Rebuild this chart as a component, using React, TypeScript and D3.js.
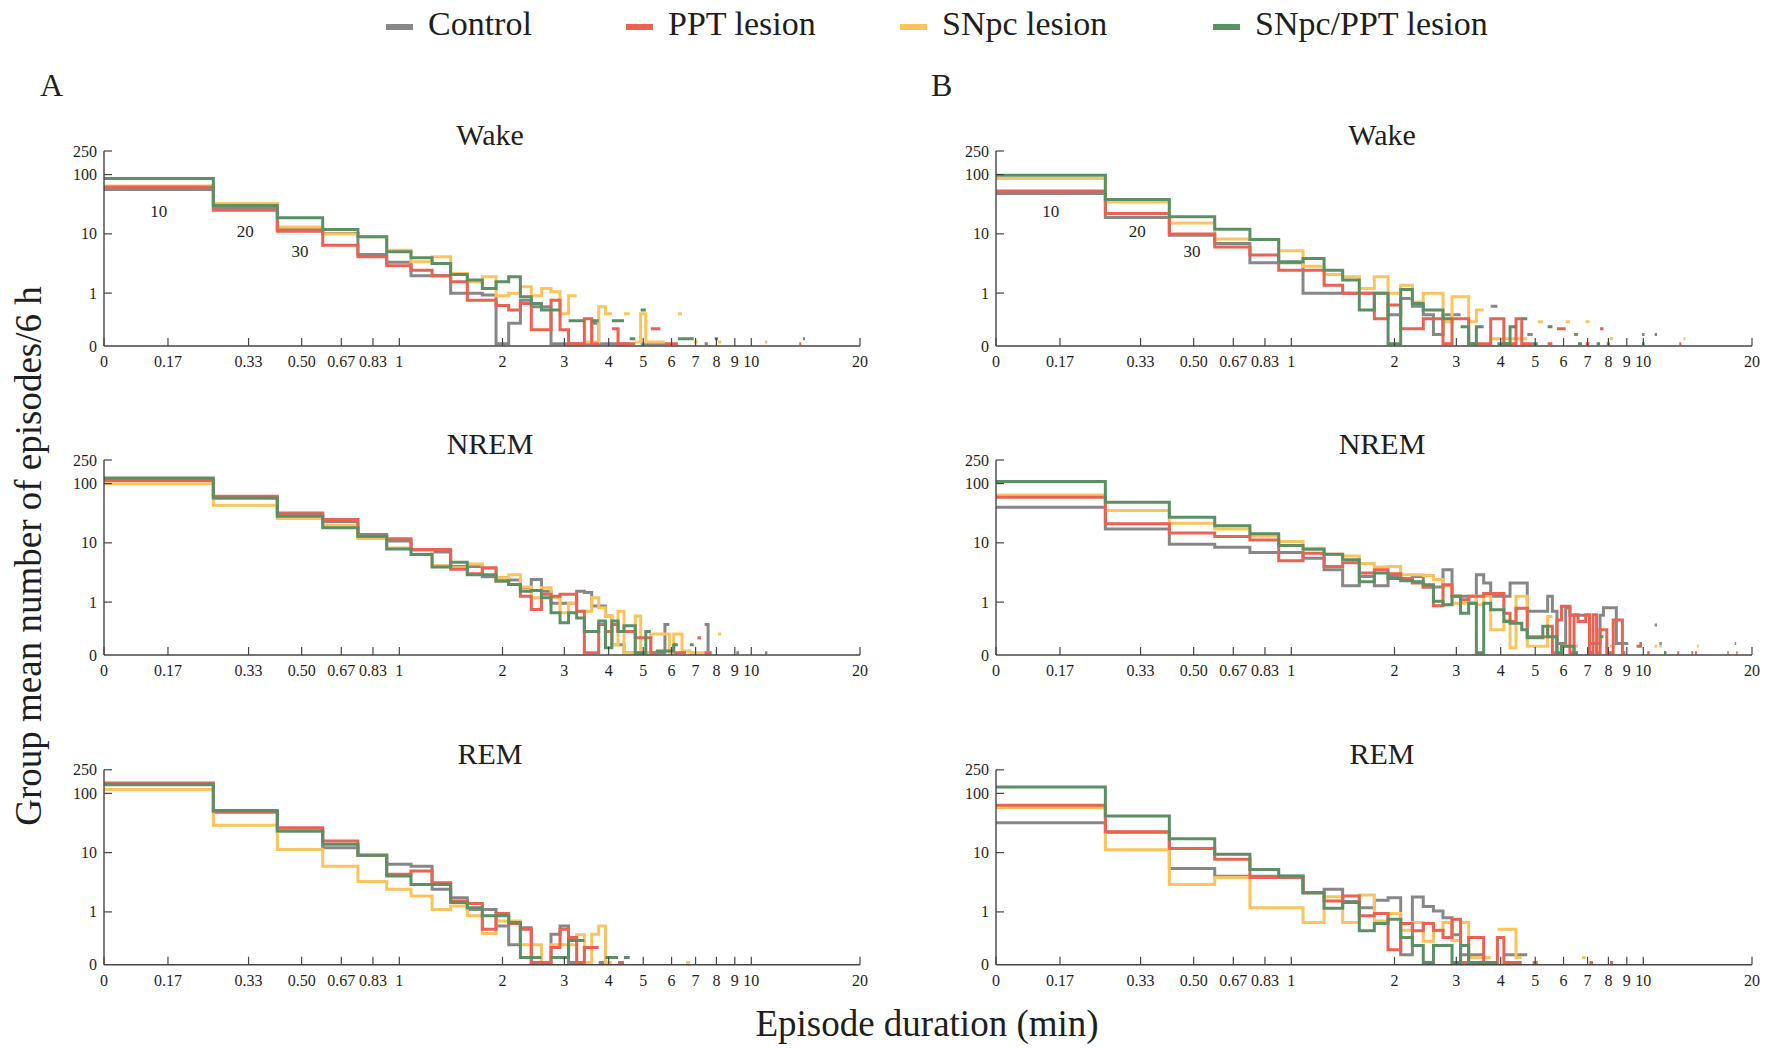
import React from "react";
import * as d3 from "d3";

// groups, in legend order
const groups = ["Control", "PPT lesion", "SNpc lesion", "SNpc/PPT lesion"];
const groupColours = ["#878787", "#EA6251", "#FEC35C", "#5B9065"];
const drawOrder = [0, 2, 1, 3];

// x axis: episode duration, ticks in seconds, labelled in minutes
const xTickSeconds = [0, 10, 20, 30, 40, 50, 60, 120, 180, 240, 300, 360, 420, 480, 540, 600, 1200];
const xTickLabels = ["0", "0.17", "0.33", "0.50", "0.67", "0.83", "1", "2", "3", "4", "5", "6", "7", "8", "9", "10", "20"];
const yTickValues = [250, 100, 10, 1];
const yTickLabels = ["250", "100", "10", "1"];
const binNoteSeconds = [10, 20, 30];
const binNoteLabels = ["10", "20", "30"];

// group mean episodes per 10-s bin, bins centred on 10, 20, 30 ... s (0 = no episodes)
// extra isolated bins further out: [bin centre (s), value]
const wakeA_control = [56, 27.8, 12, 10.1, 4.5, 3.3, 1.96, 1.96, 0.99, 0.99, 0.93, 0.14, 0.31, 0.76, 0.59, 0.59, 0.14, 0.14, 0.14, 0.14, 0.14, 0.31, 0.14, 0.14, 0.14, 0.14, 0.14, 0, 0, 0.14, 0.14, 0.14, 0.14, 0.14];
const wakeA_controlDots = [[450, 0.14]];
const wakeA_ppt = [62, 25, 11.1, 6.4, 4.1, 2.9, 2.44, 1.96, 1.55, 0.76, 0.76, 0.62, 0.52, 0.67, 0.24, 0.24, 0.76, 0.24, 0.14, 0.14, 0.37, 0.14, 0, 0, 0.25, 0.14, 0.14, 0.14, 0, 0, 0, 0.25, 0.25, 0, 0.14, 0.14, 0.14];
const wakeA_pptDots = [[820, 0.14]];
const wakeA_snpc = [64, 32.4, 13.1, 9.9, 8.9, 5.3, 3.37, 4.1, 2.14, 1.55, 1.88, 0.9, 0.99, 1.28, 0.9, 1.2, 1.05, 0.45, 0.9, 0, 0.15, 0.15, 0.59, 0.45, 0, 0, 0.45, 0, 0.15, 0.45, 0.15, 0.15, 0.15, 0.15];
const wakeA_snpcDots = [[380, 0.45], [420, 0.15], [490, 0.15], [660, 0.15]];
const wakeA_combo = [85.7, 30, 18.6, 11.8, 8.9, 5.0, 3.94, 3.16, 2.06, 1.66, 1.2, 1.55, 1.88, 0.87, 0.67, 0.52, 0.52, 0, 0.34, 0.34, 0, 0.34, 0, 0, 0.34, 0.34, 0, 0.17, 0, 0.52];
const wakeA_comboDots = [[380, 0.17], [390, 0.17], [400, 0.17], [410, 0.17], [480, 0.17], [840, 0.17]];

const wakeB_control = [48, 18.8, 9.5, 6.9, 3.25, 3.25, 0.99, 0.99, 0.99, 0.99, 0.99, 0.43, 0.81, 0.6, 0.43, 0.2, 0.43, 0.43, 0, 0, 0, 0, 0.6, 0, 0, 0, 0, 0, 0.2];
const wakeB_controlDots = [[390, 0.2], [600, 0.2], [650, 0.2]];
const wakeB_ppt = [53, 22, 9.9, 6.0, 4.4, 2.44, 2.44, 1.36, 0.99, 0.99, 0.37, 0.63, 0.25, 0.25, 0.37, 0.37, 0.14, 0.37, 0.37, 0.14, 0.14, 0.14, 0.37, 0.37, 0.14, 0.14, 0.37, 0.14, 0.14];
const wakeB_pptDots = [[330, 0.14], [350, 0.25], [360, 0.25], [420, 0.14], [460, 0.25], [480, 0.14], [760, 0.14]];
const wakeB_snpc = [86, 34.5, 15.3, 8.2, 8.0, 5.2, 2.85, 2.06, 1.88, 1.2, 1.88, 0.99, 1.36, 0.71, 0.99, 0.99, 0.33, 0.87, 0.87, 0.33, 0.52, 0, 0.17, 0.17, 0.17, 0.17, 0.17, 0.17];
const wakeB_snpcDots = [[310, 0.33], [370, 0.33], [420, 0.33], [490, 0.17], [780, 0.17]];
const wakeB_combo = [97.6, 38, 19.4, 12, 8.0, 3.37, 3.84, 2.44, 1.66, 0.52, 0.99, 0.14, 1.15, 0.67, 0.52, 0.52, 0.37, 0, 0.27, 0.14, 0.27, 0, 0, 0.14, 0.14, 0.27, 0, 0.37, 0, 0.14];
const wakeB_comboDots = [[330, 0.27], [400, 0.14], [450, 0.14], [600, 0.14]];

const nremA_control = [113, 57, 30, 22.6, 13.8, 10.7, 7.7, 7.0, 4.0, 4.0, 2.67, 2.57, 2.35, 1.74, 2.4, 1.53, 0.96, 0.96, 0.96, 1.53, 1.45, 0.86, 0.86, 0.58, 0.19, 0.19, 0.14, 0.14, 0.14, 0.14, 0.14, 0.14, 0.14, 0.14, 0.42, 0, 0, 0, 0, 0, 0.14, 0, 0, 0, 0.42, 0.14];
const nremA_controlDots = [[550, 0.14], [660, 0.14]];
const nremA_ppt = [113, 61, 32, 24.7, 12.9, 11.7, 7.7, 7.7, 3.6, 3.0, 3.8, 2.26, 1.98, 1.26, 0.75, 1.35, 1.26, 1.35, 1.35, 0.7, 0.14, 0.14, 0.42, 0.32, 0.42, 0.32, 0.32, 0.32, 0.25, 0.25, 0.25, 0.14, 0, 0, 0, 0, 0.14, 0.14, 0.14, 0, 0, 0, 0.25, 0, 0.14, 0.14];
const nremA_pptDots: number[][] = [];
const nremA_snpc = [99, 43, 25.7, 19.6, 11.8, 8.2, 7.4, 4.15, 3.8, 4.4, 3.7, 2.57, 2.9, 1.8, 1.18, 1.74, 1.18, 0.66, 0.96, 0.7, 0.7, 1.18, 0.8, 0.58, 0.19, 0.7, 0.14, 0.14, 0.58, 0.14, 0.14, 0.29, 0.29, 0.29, 0.29, 0.14, 0.29, 0.29, 0.15, 0.15, 0.14, 0.14, 0.14, 0.14, 0.14, 0.14, 0, 0, 0.29];
const nremA_snpcDots: number[][] = [];
const nremA_combo = [124, 57, 28, 17.9, 12.9, 7.9, 6.35, 3.9, 4.7, 2.9, 2.9, 2.26, 1.98, 1.53, 1.57, 1.18, 0.66, 0.45, 0.66, 0.54, 0.32, 0.32, 0.48, 0.17, 0.48, 0.32, 0.4, 0.4, 0.14, 0.14, 0.32, 0, 0.15, 0.15, 0.15, 0.15, 0.19, 0, 0, 0, 0.19];
const nremA_comboDots: number[][] = [];

const nremB_control = [40, 17.2, 9.5, 8.4, 6.9, 6.9, 5.5, 3.5, 1.88, 2.7, 1.88, 2.7, 2.4, 2.7, 1.8, 1.8, 3.5, 1.25, 1.25, 0.96, 2.9, 2.1, 1.25, 1.25, 1.25, 2.1, 2.1, 2.1, 0.7, 0.7, 0.7, 0.7, 1.25, 0.7, 0.2, 0.2, 0.8, 0.6, 0.6, 0.6, 0.6, 0.6, 0.2, 0.2, 0.2, 0.6, 0.8, 0.8, 0.8, 0.8, 0.2, 0.2, 0.2, 0.2];
const nremB_controlDots = [[590, 0.2], [650, 0.41], [670, 0.2], [1080, 0.2]];
const nremB_ppt = [59, 21, 14.6, 12.8, 11.2, 5.0, 6.7, 4.0, 4.6, 3.1, 3.5, 3.0, 2.5, 2.1, 1.8, 0.87, 1.96, 1.25, 1.1, 1.25, 1.25, 1.4, 1.4, 1.4, 0.65, 0.47, 0.79, 0.79, 0.26, 0.26, 0.26, 0.26, 0.39, 0.14, 0.5, 0.85, 0.85, 0.14, 0.61, 0.47, 0.47, 0.61, 0.14, 0.61, 0.14, 0.34, 0.34, 0.14, 0.14, 0.5, 0.5, 0.5, 0.14];
const nremB_pptDots = [[580, 0.18], [590, 0.18], [620, 0.14], [690, 0.14], [750, 0.14], [820, 0.14], [840, 0.14], [1030, 0.14], [1090, 0.14]];
const nremB_snpc = [64, 35, 21.5, 17.2, 13.1, 10.5, 8.1, 6.4, 6.0, 4.5, 3.9, 4.0, 2.9, 2.9, 2.8, 2.4, 1.88, 0.96, 0.96, 1.27, 0.9, 1.25, 0.34, 0.34, 0.5, 0.17, 1.25, 1.25, 0.18, 0.18, 0.18, 0.18, 0.57, 0, 0, 0.18, 0.18, 0.18, 0.18];
const nremB_snpcDots = [[490, 0.18], [580, 0.18], [650, 0.18], [670, 0.18], [850, 0.18]];
const nremB_combo = [108, 48.5, 27, 19.4, 14.2, 9.0, 7.8, 6.4, 5.2, 2.2, 3.1, 2.5, 2.3, 2.2, 1.96, 1.03, 0.9, 1.25, 0.65, 0.96, 0.14, 0.96, 0.74, 0.74, 0.47, 0.44, 0.44, 0.34, 0.25, 0.25, 0.25, 0.39, 0.26, 0.26, 0.14, 0.18, 0.18, 0.18, 0.14];
const nremB_comboDots = [[460, 0.26], [690, 0.14]];

const remA_control = [140, 48, 23.2, 12.1, 9.0, 6.35, 5.9, 2.4, 1.74, 1.1, 1.1, 0.58, 0.28, 0.54, 0.14, 0.14, 0.42, 0.58, 0.14, 0.14, 0.14, 0, 0.14];
const remA_controlDots: number[][] = [];
const remA_ppt = [150, 50, 26.3, 15.7, 9.0, 4.3, 4.9, 3.1, 1.53, 1.38, 0.51, 0.94, 0.64, 0.51, 0.14, 0.14, 0.25, 0.51, 0.37, 0.14, 0.25, 0.25, 0, 0, 0, 0.14];
const remA_pptDots: number[][] = [];
const remA_snpc = [116, 29, 11.3, 5.9, 3.25, 2.4, 1.86, 1.1, 1.26, 0.86, 0.43, 0.7, 0.7, 0.28, 0.28, 0.14, 0.28, 0.28, 0.28, 0.41, 0.14, 0.42, 0.58, 0.14, 0, 0.14];
const remA_snpcDots = [[400, 0.14]];
const remA_combo = [142, 51.5, 23.2, 13.8, 9.0, 4.05, 2.9, 2.9, 1.44, 1.18, 0.86, 0.86, 0.66, 0.17, 0.17, 0, 0.17, 0.17, 0.33, 0.33, 0, 0, 0, 0.17, 0.17, 0, 0.17];
const remA_comboDots: number[][] = [];

const remB_control = [32, 22, 5.4, 4.0, 4.0, 4.0, 2.1, 2.4, 1.5, 1.18, 1.57, 1.74, 0.19, 1.79, 1.23, 1.04, 0.8, 0.41, 0.19, 0.19, 0.19, 0, 0, 0, 0.19, 0.19, 0.19, 0.19];
const remB_controlDots: number[][] = [];
const remB_ppt = [63, 22.6, 11.8, 7.7, 3.8, 3.8, 2.1, 1.53, 1.86, 0.86, 0.94, 0.23, 0.64, 0.48, 0.64, 0.49, 0.37, 0.75, 0.14, 0.37, 0.37, 0.14, 0.14, 0.37, 0.14, 0.14, 0.14, 0, 0, 0.14];
const remB_pptDots = [[430, 0.14], [490, 0.14]];
const remB_snpc = [57, 11.2, 2.9, 3.8, 1.18, 1.18, 0.66, 1.8, 0.66, 1.93, 0.7, 0.94, 0.49, 0.66, 0.32, 0.48, 0.66, 0.33, 0.66, 0.17, 0.17, 0.17, 0, 0.51, 0.51, 0.51, 0.17];
const remB_snpcDots = [[410, 0.17]];
const remB_combo = [128, 41.5, 17.2, 9.4, 5.2, 4.05, 2.1, 1.15, 1.44, 0.48, 0.64, 0.75, 0.37, 0.27, 0.14, 0.27, 0.27, 0.14, 0.27, 0.14, 0.14, 0.14, 0.14];
const remB_comboDots: number[][] = [];

const panels = [
  { title: "Wake", col: 0, row: 0, series: [wakeA_control, wakeA_ppt, wakeA_snpc, wakeA_combo], dots: [wakeA_controlDots, wakeA_pptDots, wakeA_snpcDots, wakeA_comboDots] },
  { title: "Wake", col: 1, row: 0, series: [wakeB_control, wakeB_ppt, wakeB_snpc, wakeB_combo], dots: [wakeB_controlDots, wakeB_pptDots, wakeB_snpcDots, wakeB_comboDots] },
  { title: "NREM", col: 0, row: 1, series: [nremA_control, nremA_ppt, nremA_snpc, nremA_combo], dots: [nremA_controlDots, nremA_pptDots, nremA_snpcDots, nremA_comboDots] },
  { title: "NREM", col: 1, row: 1, series: [nremB_control, nremB_ppt, nremB_snpc, nremB_combo], dots: [nremB_controlDots, nremB_pptDots, nremB_snpcDots, nremB_comboDots] },
  { title: "REM", col: 0, row: 2, series: [remA_control, remA_ppt, remA_snpc, remA_combo], dots: [remA_controlDots, remA_pptDots, remA_snpcDots, remA_comboDots] },
  { title: "REM", col: 1, row: 2, series: [remB_control, remB_ppt, remB_snpc, remB_combo], dots: [remB_controlDots, remB_pptDots, remB_snpcDots, remB_comboDots] },
];

const W = 1776;
const H = 1048;
const plotW = 756;
const plotH = 195;
const colX = [104, 996];
const rowY = [151, 460, 769.8];
const font = "'Liberation Serif', 'Times New Roman', serif";
const ink = "#1e1e1e";
const axisInk = "#444";

// log axis on (duration + 5 s); bin edges fall on 10, 20, 30 ...
const xLog = d3.scaleLog().domain([10, 1205]).range([0, plotW]);
const xPos = (sec: number) => xLog(Math.max(sec, 5) + 5);
const y = d3.scaleLog().domain([0.128, 250]).range([plotH, 0]).clamp(true);

const line = d3
  .line<[number, number] | null>()
  .defined((d) => d !== null)
  .x((d) => d![0])
  .y((d) => d![1]);

function stepPath(values: number[], dots: number[][]) {
  const bins = new Map<number, number>();
  values.forEach((v, i) => bins.set(10 * (i + 1), v));
  dots.forEach(([c, v]) => bins.set(c, v));
  const centres = Array.from(bins.keys()).sort((a, b) => a - b);
  const pts: ([number, number] | null)[] = [];
  let prev = -1;
  centres.forEach((c) => {
    const v = bins.get(c)!;
    if (c !== prev + 10) pts.push(null);
    if (v > 0) {
      pts.push([xPos(c - 5), y(v)], [xPos(c + 5), y(v)]);
    } else {
      pts.push(null);
    }
    prev = c;
  });
  return line(pts) || "";
}

function Panel({ p }: { p: (typeof panels)[number] }) {
  const x0 = colX[p.col];
  const y0 = rowY[p.row];
  return (
    <g transform={`translate(${x0},${y0})`}>
      <text x={386} y={-6} textAnchor="middle" fontSize={30} fontFamily={font} fill={ink}>
        {p.title}
      </text>
      {drawOrder.map((g) => (
        <path
          key={g}
          d={stepPath(p.series[g], p.dots[g])}
          fill="none"
          stroke={groupColours[g]}
          strokeWidth={3}
          strokeLinejoin="miter"
        />
      ))}
      {/* axes */}
      <line x1={0} x2={0} y1={0} y2={plotH} stroke={axisInk} strokeWidth={1.4} />
      <line x1={0} x2={plotW} y1={plotH} y2={plotH} stroke={axisInk} strokeWidth={1.4} />
      {yTickValues.map((v, i) => (
        <g key={v}>
          <line x1={0} x2={8} y1={y(v)} y2={y(v)} stroke={axisInk} strokeWidth={1.2} />
          <text x={-7} y={y(v)} dy="0.35em" textAnchor="end" fontSize={16} fontFamily={font} fill={ink}>
            {yTickLabels[i]}
          </text>
        </g>
      ))}
      <text x={-7} y={plotH} dy="0.35em" textAnchor="end" fontSize={16} fontFamily={font} fill={ink}>
        0
      </text>
      {xTickSeconds.map((s, i) => (
        <g key={s}>
          <line x1={xPos(s)} x2={xPos(s)} y1={plotH} y2={plotH - 8} stroke={axisInk} strokeWidth={1.2} />
          <text x={xPos(s)} y={plotH + 21} textAnchor="middle" fontSize={16} fontFamily={font} fill={ink}>
            {xTickLabels[i]}
          </text>
        </g>
      ))}
      {p.row === 0 &&
        binNoteSeconds.map((s, i) => (
          <text
            key={s}
            x={xLog(Math.sqrt(s * (s + 10)))}
            y={66 + 20 * i}
            textAnchor="middle"
            fontSize={17}
            fontFamily={font}
            fill={ink}
          >
            {binNoteLabels[i]}
          </text>
        ))}
    </g>
  );
}

const legendSwatchX = [386, 626, 900, 1213];

export default function App() {
  return (
    <svg
      width={W}
      height={H}
      viewBox={`0 0 ${W} ${H}`}
      style={{ position: "absolute", left: 0, top: 0, background: "#fff" }}
    >
      <rect width={W} height={H} fill="#fff" />
      {groups.map((g, i) => (
        <g key={g}>
          <line
            x1={legendSwatchX[i]}
            x2={legendSwatchX[i] + 27}
            y1={27}
            y2={27}
            stroke={groupColours[i]}
            strokeWidth={6}
          />
          <text x={legendSwatchX[i] + 42} y={35} fontSize={34} fontFamily={font} fill={ink}>
            {g}
          </text>
        </g>
      ))}
      <text x={40} y={96} fontSize={32} fontFamily={font} fill={ink}>A</text>
      <text x={931} y={96} fontSize={32} fontFamily={font} fill={ink}>B</text>
      {panels.map((p, i) => (
        <Panel key={i} p={p} />
      ))}
      <text
        transform="translate(41,556) rotate(-90)"
        textAnchor="middle"
        fontSize={37}
        fontFamily={font}
        fill={ink}
      >
        Group mean number of episodes/6 h
      </text>
      <text x={927} y={1036} textAnchor="middle" fontSize={37} fontFamily={font} fill={ink}>
        Episode duration (min)
      </text>
    </svg>
  );
}
